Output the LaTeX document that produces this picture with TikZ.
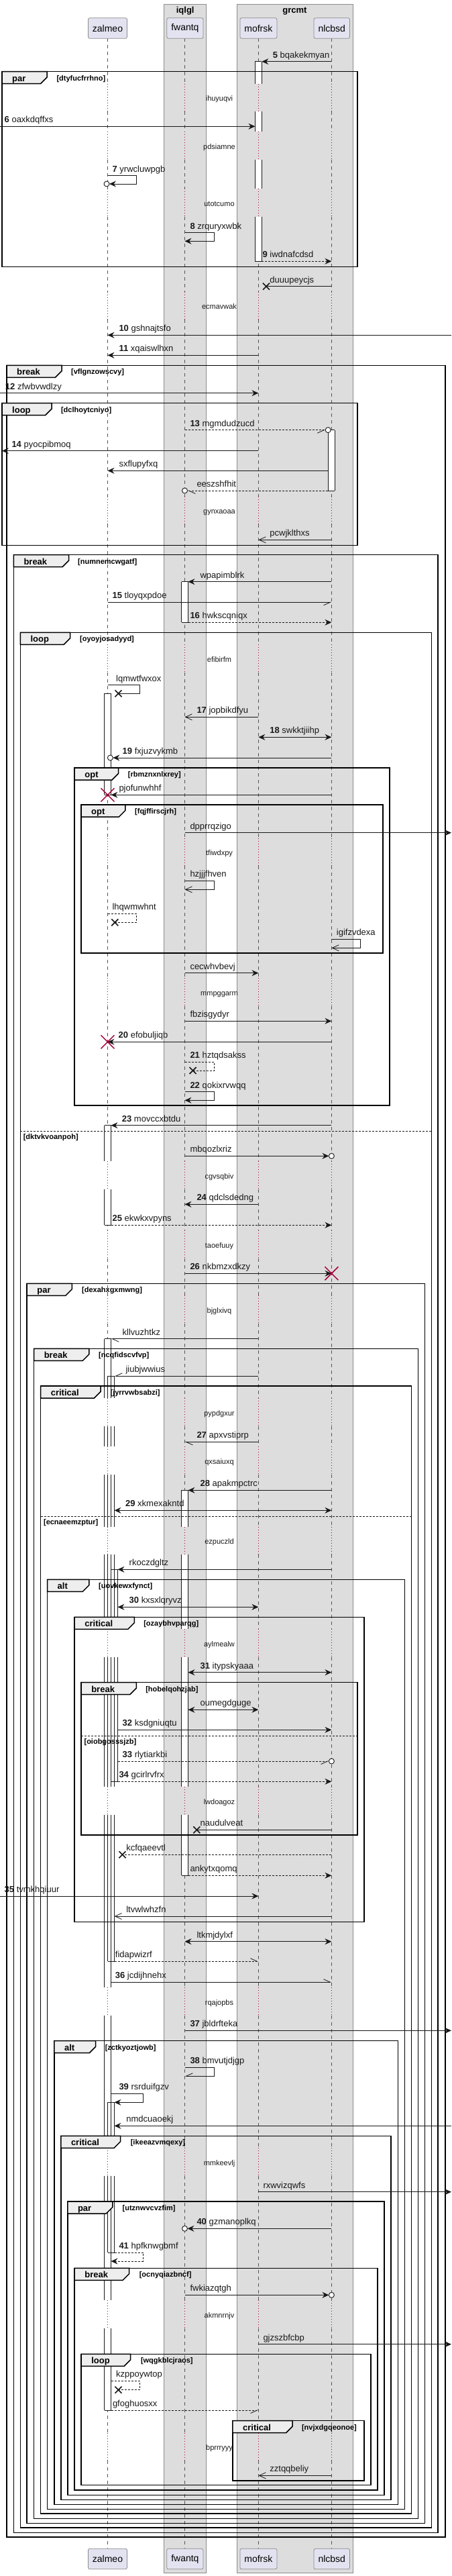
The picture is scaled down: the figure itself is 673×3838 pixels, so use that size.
\documentclass[tikz,border=0pt]{standalone}
\usepackage{fontspec}
\setmainfont{Liberation Sans}
\usetikzlibrary{arrows.meta}
\definecolor{lc}{HTML}{181818}
\definecolor{dred}{HTML}{A80036}
\definecolor{grpfill}{HTML}{DDDDDD}
\definecolor{grpline}{HTML}{8C8C8C}
\definecolor{pfill}{HTML}{E2E2F0}
\definecolor{pline}{HTML}{8C8C8C}
\definecolor{tabfill}{HTML}{EEEEEE}
\definecolor{llc}{HTML}{555555}
\tikzset{
 m/.style={draw=lc,line width=0.8pt},
 md/.style={m,dash pattern=on 3pt off 2pt},
 fa/.style={-{Stealth[length=10pt,width=9pt,inset=3.5pt]}},
 ba/.style={{Stealth[length=10pt,width=9pt,inset=3.5pt]}-{Stealth[length=10pt,width=9pt,inset=3.5pt]}},
 oa/.style={-{Straight Barb[length=10pt,width=9pt]}},
 ha/.style={-{Straight Barb[length=10pt,width=9pt,harpoon]}},
 hs/.style={-{Straight Barb[length=10pt,width=9pt,harpoon,swap]}},
 mlab/.style={anchor=base west,yshift=5.5pt,inner sep=0pt,font=\fontsize{13}{15}\selectfont,text=lc},
 dlab/.style={anchor=base,yshift=-4pt,inner sep=0pt,font=\fontsize{11}{13}\selectfont,text=lc},
 kw/.style={anchor=base west,inner sep=0pt,font=\fontsize{13}{15}\selectfont\bfseries},
 guard/.style={anchor=base west,inner sep=0pt,font=\fontsize{11}{13}\selectfont\bfseries},
 frameline/.style={draw=black,line width=1.5pt},
 pbox/.style={draw=pline,fill=pfill,line width=0.8pt,rounded corners=2.5pt,minimum height=30.6pt,inner xsep=6.5pt,font=\fontsize{14}{16}\selectfont},
 actline/.style={draw=lc,line width=0.8pt},
 gtitle/.style={anchor=base,inner sep=0pt,font=\fontsize{13}{15}\selectfont\bfseries},
}
\newcommand\abarfill[3]{\fill[white] (#1,#2) rectangle (#1+10,#3);}
\newcommand\abarline[3]{\draw[actline] (#1,#2) -- (#1,#3) (#1+10,#2) -- (#1+10,#3);}
\newcommand\aendline[2]{\draw[actline] (#1,#2) -- (#1+10,#2);}
\newcommand\aendnone[2]{}
\newcommand\allbars{%
 \abar{380.4}{91.7}{124.7}\aend{380.4}{91.7}
 \abar{380.4}{166.2}{196.3}
 \abar{380.4}{237.8}{281.3}
 \abar{380.4}{322.8}{389.3}\aend{380.4}{389.3}
 \abar{489.4}{640.7}{731}\aend{489.4}{640.7}\aend{489.4}{731}
 \abar{270.5}{866.7}{927.3}\aend{270.5}{866.7}\aend{270.5}{927.3}
 \abar{155.5}{1033.3}{1184.3}\aend{155.5}{1033.3}\aend{155.5}{1184.3}
 \abar{155.5}{1676.7}{1730.3}\abar{155.5}{1771.8}{1825.3}\aend{155.5}{1676.7}\aend{155.5}{1825.3}
 \abar{155.5}{1994.7}{2083.3}\abar{155.5}{2124.8}{2155.3}\abar{155.5}{2196.8}{2274.7}\abar{155.5}{2316.2}{2427.3}\abar{155.5}{2468.8}{2662.3}\abar{155.5}{2703.8}{2961.3}\abar{155.5}{3002.8}{3200.3}\abar{155.5}{3241.8}{3427.3}\abar{155.5}{3468.8}{3591}\aend{155.5}{1994.7}\aend{155.5}{3591}
 \abar{160.5}{2050.3}{2083.3}\abar{160.5}{2124.8}{2155.3}\abar{160.5}{2196.8}{2274.7}\abar{160.5}{2316.2}{2427.3}\abar{160.5}{2468.8}{2662.3}\abar{160.5}{2703.8}{2922.3}\aend{160.5}{2050.3}\aend{160.5}{2922.3}
 \abar{165.5}{2338.3}{2427.3}\abar{165.5}{2468.8}{2654.3}\aend{165.5}{2338.3}\aend{165.5}{2654.3}
 \abar{160.5}{3132.3}{3200.3}\abar{160.5}{3241.8}{3356}\aend{160.5}{3132.3}\aend{160.5}{3356}
 \abar{270.5}{2220.3}{2274.7}\abar{270.5}{2316.2}{2427.3}\abar{270.5}{2468.8}{2662.3}\abar{270.5}{2703.8}{2794.3}\aend{270.5}{2220.3}\aend{270.5}{2794.3}
}
\newcommand\frm[8]{%
 \draw[frameline] (#1,#3) rectangle (#2,#4);
 \filldraw[fill=tabfill,frameline] (#1,#3) -- (#5,#3) -- (#5,#3+8.5) -- (#5-9.5,#3+18) -- (#1,#3+18) -- cycle;
 \node[kw] at (#1+15,#3+14.5) {#6};
 \node[guard] at (#8,#3+13.6) {[#7]};
}
\newcommand\elsediv[4]{%
 \draw[lc,line width=0.8pt,dash pattern=on 3pt off 2pt] (#1,#3) -- (#2,#3);
 \node[guard] at (#1+4.3,#3+12) {[#4]};
}
\newcommand\xm[2]{\draw[lc,line width=1.6pt] (#1-5,#2-5) -- (#1+5,#2+5) (#1-5,#2+5) -- (#1+5,#2-5);}
\newcommand\rx[2]{\draw[dred,line width=1.5pt] (#1-10,#2-10) -- (#1+10,#2+10) (#1-10,#2+10) -- (#1+10,#2-10);}
\newcommand\oc[2]{\draw[lc,line width=0.9pt,fill=white] (#1,#2) circle (4pt);}
\newcommand\ml[3]{\node[mlab] at (#1,#2) {#3};}
\begin{document}
\begin{tikzpicture}[x=1pt,y=-1pt]
\useasboundingbox (0,0) rectangle (673,3838);
% group boxes
\filldraw[fill=grpfill,draw=grpline,line width=0.8pt] (244.4,6) rectangle (307.5,3833);
\filldraw[fill=grpfill,draw=grpline,line width=0.8pt] (353,6) rectangle (526.4,3833);
\node[gtitle] (g1) at (276.2,19.5) {iqlgl};
\node[gtitle] (g2) at (439.4,19.5) {grcmt};
% lifelines
\foreach \x in {160.5,275.5,385.4,494.4} {
 \foreach \a/\b in {57.3/124.7,166.2/196.3,237.8/281.3,322.8/434.7,476.2/739.7,781.2/960.3,1001.8/1248.7,1290.2/1457.3,1498.8/1730.3,1771.8/1833.3,1874.8/1930.3,1971.8/2083.3,2124.8/2155.3,2196.8/2274.7,2316.2/2427.3,2468.8/2662.3,2703.8/2961.3,3002.8/3200.3,3241.8/3427.3,3468.8/3624.7,3666.2/3796.7}
  \draw[llc,line width=0.7pt,dash pattern=on 5pt off 5pt] (\x,\a) -- (\x,\b);
 \foreach \t in {146.7,218.3,303.3,456.7,761.7,982.3,1270.7,1479.3,1752.3,1855.3,1952.3,2105.3,2177.3,2296.7,2449.3,2684.3,2983.3,3222.3,3449.3,3646.7}
  \draw[dred,line width=0.8pt,dash pattern=on 1pt off 3pt] (\x,\t-22) -- (\x,\t+19.5);
}
% participants
\node[pbox] (zt) at (160.5,42) {zalmeo};
\node[pbox] (ft) at (275.9,42) {fwantq};
\node[pbox] (mt) at (385.4,42) {mofrsk};
\node[pbox] (nt) at (494.8,42) {nlcbsd};
\node[pbox] (zb) at (160.5,3812.5) {zalmeo};
\node[pbox] (fb) at (275.9,3812.5) {fwantq};
\node[pbox] (mb) at (385.4,3812.5) {mofrsk};
\node[pbox] (nb) at (494.8,3812.5) {nlcbsd};
% activation bars
\let\abar\abarfill \let\aend\aendnone \allbars
\let\abar\abarline \let\aend\aendline \allbars
% frames
\frm{3}{532.9}{106.7}{397.7}{70}{par}{dtyfucfrrhno}{84.3}
\frm{10}{664}{544.3}{3780}{92}{break}{vflgnzowscvy}{106}
\frm{3}{533}{600.7}{812.3}{77}{loop}{dclhoytcniyo}{90.8}
\frm{20.3}{653}{826.7}{3773.3}{102.5}{break}{numnemcwgatf}{116}
\frm{30.3}{643.6}{942.3}{3766}{104.7}{loop}{oyoyjosadyyd}{119}
\elsediv{30.3}{643.6}{1685.3}{dktvkvoanpoh}
\frm{111.2}{580.9}{1144}{1647}{176.5}{opt}{rbmznxnlxrey}{190.7}
\frm{121}{571}{1199}{1420}{186.9}{opt}{fqjffirscjrh}{201}
\frm{40.2}{633.6}{1912.3}{3759.3}{107.3}{par}{dexahxgxmwng}{122}
\frm{50.6}{623.7}{2009.3}{3752.3}{132.8}{break}{ncqfidscvfvp}{147}
\frm{60.6}{613.3}{2065}{3745}{150}{critical}{jyrrvwbsabzi}{164.4}
\elsediv{60.6}{613.3}{2259.3}{ecnaeemzptur}
\frm{70.5}{603.4}{2353.3}{3738.3}{132.8}{alt}{uovkewxfynct}{147}
\frm{111.2}{542.8}{2409.3}{2863.3}{200.3}{critical}{ozaybhvparqg}{214.1}
\frm{121.1}{532.9}{2506.7}{2734}{203.3}{break}{hobelqohzjab}{217.1}
\elsediv{121.1}{532.9}{2586}{oiobgosssjzb}
\frm{80.9}{593.4}{3040.7}{3731.7}{142.7}{alt}{zctkyoztjowb}{156.6}
\frm{90.8}{583}{3182.3}{3724.3}{179.5}{critical}{ikeeazvmqexy}{194.6}
\frm{100.8}{573.1}{3280}{3717.3}{167.8}{par}{utznwvcvzfim}{182.5}
\frm{111.2}{563.1}{3379.3}{3710}{192.5}{break}{ocnyqiazbncf}{207.6}
\frm{121.1}{552.8}{3507.3}{3702.7}{194.6}{loop}{wqgkblcjraos}{209.8}
\frm{346.9}{542.8}{3606.7}{3696}{436}{critical}{nvjxdgqeonoe}{449.8}
% delays
\foreach \t/\s in {146.7/ihuyuqvi,218.3/pdsiamne,303.3/utotcumo,456.7/ecmavwak,761.7/gynxaoaa,982.3/efibirfm,1270.7/tfiwdxpy,1479.3/mmpggarm,1752.3/cgvsqbiv,1855.3/taoefuuy,1952.3/bjglxivq,2105.3/pypdgxur,2177.3/qxsaiuxq,2296.7/ezpuczld,2449.3/aylmealw,2684.3/lwdoagoz,2983.3/rqajopbs,3222.3/mmkeevlj,3449.3/akmnrnjv,3646.7/bprrryyy}
 \node[dlab] at (327,\t) {\s};
% messages
\draw[m,fa] (494.4,91.7) -- (390.4,91.7); \ml{406.6}{91.7}{\textbf{5} bqakekmyan}
\draw[m,fa] (0,188.3) -- (380.4,188.3); \ml{6.5}{188.3}{\textbf{6} oaxkdqffxs}
\draw[m,fa] (160.5,261.7) -- (203.3,261.7) -- (203.3,274) -- (163,274); \oc{159}{274} \ml{167.4}{261.7}{\textbf{7} yrwcluwpgb}
\draw[m,fa] (275.5,346.7) -- (319.2,346.7) -- (319.2,359.3) -- (275.5,359.3); \ml{283.3}{346.7}{\textbf{8} zrquryxwbk}
\draw[md,fa] (390.4,389.3) -- (494.4,389.3); \ml{391.4}{389.3}{\textbf{9} iwdnafcdsd}
\draw[m] (494.4,426.7) -- (397,426.7); \xm{397}{426.7} \ml{402.2}{426.7}{duuupeycjs}
\draw[m,fa] (673,499.3) -- (160.5,499.3); \ml{177.3}{499.3}{\textbf{10} gshnajtsfo}
\draw[m,fa] (385.4,529.3) -- (160.5,529.3); \ml{177.3}{529.3}{\textbf{11} xqaiswlhxn}
\draw[m,fa] (0,585.7) -- (385.4,585.7); \ml{7.8}{585.7}{\textbf{12} zfwbvwdlzy}
\draw[md,hs] (275.5,640.7) -- (485.2,640.7); \oc{489.2}{640.7} \ml{283.3}{640.7}{\textbf{13} mgmdudzucd}
\draw[m,fa] (385.4,671.7) -- (3,671.7); \ml{17.3}{671.7}{\textbf{14} pyocpibmoq}
\draw[m,fa] (489.4,701.3) -- (160.5,701.3); \ml{177.3}{701.3}{sxflupyfxq}
\draw[md,ha] (489.4,731) -- (279.5,731); \oc{275.5}{731} \ml{293.3}{731}{eeszshfhit}
\draw[m,oa] (494.4,804.3) -- (385.4,804.3); \ml{402.2}{804.3}{pcwjklthxs}
\draw[m,fa] (494.4,866.7) -- (280.5,866.7); \ml{298.4}{866.7}{wpapimblrk}
\draw[m,hs] (160.5,897.3) -- (494.4,897.3); \ml{167.4}{897.3}{\textbf{15} tloyqxpdoe}
\draw[md,fa] (280.5,927.3) -- (494.4,927.3); \ml{283.3}{927.3}{\textbf{16} hwkscqniqx}
\draw[m] (160.5,1020.7) -- (208,1020.7) -- (208,1033.3) -- (176.5,1033.3); \xm{176.5}{1033.3} \ml{173}{1020.7}{lqmwtfwxox}
\draw[m,oa] (385.4,1068.3) -- (275.5,1068.3); \ml{293.3}{1068.3}{\textbf{17} jopbikdfyu}
\draw[m,ba] (385.4,1098.3) -- (494.4,1098.3); \ml{402.2}{1098.3}{\textbf{18} swkktjiihp}
\draw[m,fa] (494.4,1129) -- (168.4,1129); \oc{164.4}{1129} \ml{182.5}{1129}{\textbf{19} fxjuzvykmb}
\draw[m,fa] (494.4,1184.3) -- (165.5,1184.3); \rx{160.5}{1184.3} \ml{177.3}{1184.3}{pjofunwhhf}
\draw[m,fa] (275.5,1240.7) -- (673,1240.7); \ml{283.3}{1240.7}{dpprrqzigo}
\draw[m,oa] (275.5,1312.3) -- (319.2,1312.3) -- (319.2,1325.3) -- (275.5,1325.3); \ml{283.3}{1312.3}{hzjjjfhven}
\draw[md] (160.5,1361.3) -- (203.3,1361.3) -- (203.3,1374.3) -- (171.3,1374.3); \xm{171.3}{1374.3} \ml{167.4}{1361.3}{lhqwmwhnt}
\draw[m,oa] (494.4,1399.3) -- (537.6,1399.3) -- (537.6,1412.3) -- (494.4,1412.3); \ml{501.7}{1399.3}{igifzvdexa}
\draw[m,fa] (275.5,1449.7) -- (385.4,1449.7); \ml{283.3}{1449.7}{cecwhvbevj}
\draw[m,fa] (275.5,1521.3) -- (494.4,1521.3); \ml{283.3}{1521.3}{fbzisgydyr}
\draw[m,fa] (494.4,1552.3) -- (160.5,1552.3); \rx{160.5}{1552.3} \ml{176.5}{1552.3}{\textbf{20} efobuljiqb}
\draw[md] (275.5,1582.3) -- (319.2,1582.3) -- (319.2,1595) -- (287.6,1595); \xm{287.6}{1595} \ml{283.3}{1582.3}{\textbf{21} hztqdsakss}
\draw[m,fa] (275.5,1626.7) -- (319.2,1626.7) -- (319.2,1639.3) -- (275.5,1639.3); \ml{283.3}{1626.7}{\textbf{22} qokixrvwqq}
\draw[m,fa] (494.4,1676.7) -- (165.5,1676.7); \ml{181.7}{1676.7}{\textbf{23} movccxbtdu}
\draw[m,fa] (275.5,1722.3) -- (490.4,1722.3); \oc{494.4}{1722.3} \ml{283.3}{1722.3}{mbqozlxriz}
\draw[m,fa] (385.4,1794.3) -- (275.5,1794.3); \ml{293.3}{1794.3}{\textbf{24} qdclsdedng}
\draw[md,fa] (165.5,1825.3) -- (494.4,1825.3); \ml{167.4}{1825.3}{\textbf{25} ekwkxvpyns}
\draw[m,fa] (275.5,1897.3) -- (494.4,1897.3); \rx{494.4}{1897.3} \ml{283.3}{1897.3}{\textbf{26} nkbmzxdkzy}
\draw[m,ha] (385.4,1994.7) -- (165.5,1994.7); \ml{182.5}{1994.7}{kllvuzhtkz}
\draw[m,hs] (385.4,2050.3) -- (170.5,2050.3); \ml{187.3}{2050.3}{jiubjwwius}
\draw[m,ha] (385.4,2148.3) -- (275.5,2148.3); \ml{293.3}{2148.3}{\textbf{27} apxvstiprp}
\draw[m,fa] (494.4,2220.3) -- (280.5,2220.3); \ml{298.4}{2220.3}{\textbf{28} apakmpctrc}
\draw[m,ba] (170.5,2250.3) -- (494.4,2250.3); \ml{186.9}{2250.3}{\textbf{29} xkmexakntd}
\draw[m,fa] (494.4,2338.3) -- (175.5,2338.3); \ml{192.5}{2338.3}{rkoczdgltz}
\draw[m,ba] (175.5,2394.3) -- (385.4,2394.3); \ml{192.5}{2394.3}{\textbf{30} kxsxlqryvz}
\draw[m,ba] (280.5,2491.7) -- (494.4,2491.7); \ml{298.4}{2491.7}{\textbf{31} itypskyaaa}
\draw[m,ba] (280.5,2547.3) -- (385.4,2547.3); \ml{298.4}{2547.3}{oumegdguge}
\draw[m,fa] (175.5,2577.3) -- (494.4,2577.3); \ml{182.5}{2577.3}{\textbf{32} ksdgniuqtu}
\draw[md,hs] (175.5,2624) -- (490.4,2624); \oc{494.4}{2624} \ml{182.5}{2624}{\textbf{33} rlytiarkbi}
\draw[md,fa] (175.5,2654.3) -- (494.4,2654.3); \ml{177.3}{2654.3}{\textbf{34} gcirlrvfrx}
\draw[m] (494.4,2726.3) -- (293.3,2726.3); \xm{293.3}{2726.3} \ml{298.4}{2726.3}{naudulveat}
\draw[md] (494.4,2763.3) -- (182.5,2763.3); \xm{182.5}{2763.3} \ml{188.1}{2763.3}{kcfqaeevtl}
\draw[md,fa] (280.5,2794.3) -- (494.4,2794.3); \ml{283.3}{2794.3}{ankytxqomq}
\draw[m,fa] (0,2825) -- (385.4,2825); \ml{6.5}{2825}{\textbf{35} tvmkhqiuur}
\draw[m,oa] (494.4,2855) -- (170.5,2855); \ml{188.1}{2855}{ltvwlwhzfn}
\draw[m,ba] (275.5,2892.7) -- (494.4,2892.7); \ml{293.3}{2892.7}{ltkmjdylxf}
\draw[md,ha] (170.5,2922.3) -- (385.4,2922.3); \ml{171.7}{2922.3}{fidapwizrf}
\draw[m,ha] (165.5,2953.3) -- (494.4,2953.3); \ml{171.7}{2953.3}{\textbf{36} jcdijhnehx}
\draw[m,fa] (275.5,3025.3) -- (673,3025.3); \ml{283.3}{3025.3}{\textbf{37} jbldrfteka}
\draw[m,hs] (275.5,3080.3) -- (319.2,3080.3) -- (319.2,3093.3) -- (275.5,3093.3); \ml{283.3}{3080.3}{\textbf{38} bmvutjdjgp}
\draw[m,fa] (165.5,3119.3) -- (213.2,3119.3) -- (213.2,3132.3) -- (170.5,3132.3); \ml{177.3}{3119.3}{\textbf{39} rsrduifgzv}
\draw[m,fa] (673,3167.3) -- (170.5,3167.3); \ml{188.1}{3167.3}{nmdcuaoekj}
\draw[m,fa] (385.4,3265.7) -- (673,3265.7); \ml{392.3}{3265.7}{rxwvizqwfs}
\draw[m,fa] (494.4,3320.3) -- (279.5,3320.3); \oc{275.5}{3320.3} \ml{293.3}{3320.3}{\textbf{40} gzmanoplkq}
\draw[md,fa] (170.5,3356) -- (213.2,3356) -- (213.2,3369) -- (165.5,3369); \ml{177.3}{3356}{\textbf{41} hpfknwgbmf}
\draw[m,fa] (275.5,3419.3) -- (490.4,3419.3); \oc{494.4}{3419.3} \ml{283.3}{3419.3}{fwkiazqtgh}
\draw[m,fa] (385.4,3492.7) -- (673,3492.7); \ml{392.3}{3492.7}{gjzszbfcbp}
\draw[md] (165.5,3547.3) -- (208,3547.3) -- (208,3560.7) -- (176.5,3560.7); \xm{176.5}{3560.7} \ml{173}{3547.3}{kzppoywtop}
\draw[md,hs] (165.5,3591) -- (385.4,3591); \ml{167.8}{3591}{gfoghuosxx}
\draw[m,oa] (494.4,3688.3) -- (385.4,3688.3); \ml{402.2}{3688.3}{zztqqbeliy}
\end{tikzpicture}
\end{document}
